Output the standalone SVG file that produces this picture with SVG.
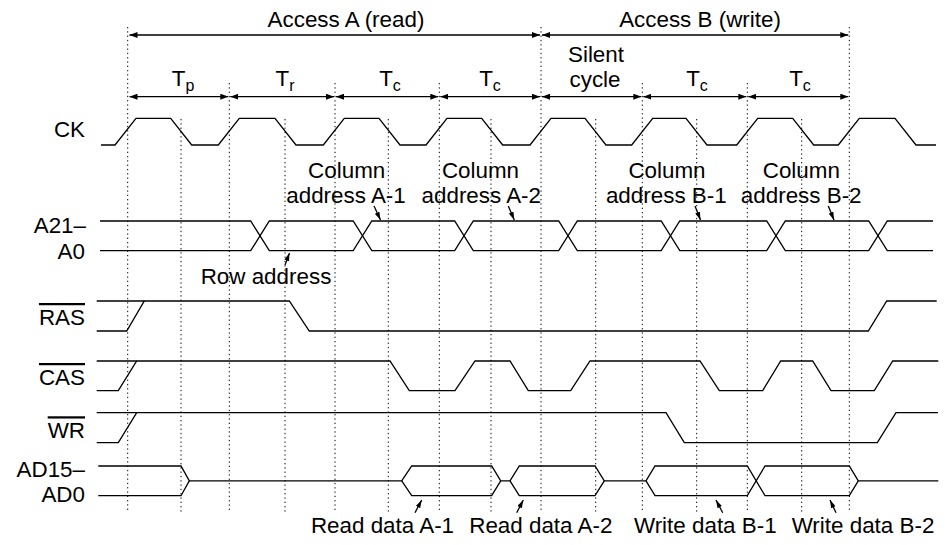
<svg xmlns="http://www.w3.org/2000/svg" width="945" height="545" viewBox="0 0 945 545">
<style>
text{font-family:"Liberation Sans",Arial,sans-serif;font-size:22.4px;fill:#000}
.m{text-anchor:middle}
.e{text-anchor:end}
.sub{font-size:16px}
.ol{text-decoration:overline}
.sig{fill:none;stroke:#000;stroke-width:1.3;stroke-linejoin:miter}
.grid{stroke:#000;stroke-width:1;stroke-dasharray:1.3 3}
.dim{stroke:#000;stroke-width:1.3;marker-start:url(#ah);marker-end:url(#ah)}
.ptr{stroke:#000;stroke-width:1.3;marker-end:url(#ph)}
</style>
<defs>
<marker id="ah" viewBox="0 0 8 6" refX="8" refY="3" markerWidth="8" markerHeight="6" markerUnits="userSpaceOnUse" orient="auto-start-reverse"><path d="M0,0 L8,3 L0,6 z" fill="#000"/></marker>
<marker id="ph" viewBox="0 0 8 5" refX="8" refY="2.5" markerWidth="8" markerHeight="5" markerUnits="userSpaceOnUse" orient="auto"><path d="M0,0 L8,2.5 L0,5 z" fill="#000"/></marker>
</defs>
<rect width="945" height="545" fill="#fff"/>
<g id="grid">
<line class="grid" x1="127.7" y1="27" x2="127.7" y2="512.7"/>
<line class="grid" x1="229.3" y1="83" x2="229.3" y2="512.7"/>
<line class="grid" x1="335" y1="83" x2="335" y2="512.7"/>
<line class="grid" x1="439.3" y1="83" x2="439.3" y2="512.7"/>
<line class="grid" x1="541" y1="27" x2="541" y2="512.7"/>
<line class="grid" x1="642.3" y1="83" x2="642.3" y2="512.7"/>
<line class="grid" x1="747.3" y1="83" x2="747.3" y2="512.7"/>
<line class="grid" x1="849.3" y1="27" x2="849.3" y2="512.7"/>
<line class="grid" x1="181" y1="119" x2="181" y2="512.7"/>
<line class="grid" x1="285" y1="119" x2="285" y2="512.7"/>
<line class="grid" x1="388.3" y1="119" x2="388.3" y2="512.7"/>
<line class="grid" x1="491" y1="119" x2="491" y2="512.7"/>
<line class="grid" x1="595.7" y1="119" x2="595.7" y2="512.7"/>
<line class="grid" x1="696.7" y1="119" x2="696.7" y2="512.7"/>
<line class="grid" x1="801.7" y1="119" x2="801.7" y2="512.7"/>
</g>
<g id="timing-labels">
<text class="m" x="346" y="26.5">Access A (read)</text>
<text class="m" x="700" y="26.5">Access B (write)</text>
<text class="m" x="183" y="86">T<tspan class="sub" dy="5">p</tspan></text>
<text class="m" x="285" y="86">T<tspan class="sub" dy="5">r</tspan></text>
<text class="m" x="390" y="86">T<tspan class="sub" dy="5">c</tspan></text>
<text class="m" x="490" y="86">T<tspan class="sub" dy="5">c</tspan></text>
<text class="m" x="596" y="61.5">Silent</text>
<text class="m" x="595" y="87">cycle</text>
<text class="m" x="697" y="86">T<tspan class="sub" dy="5">c</tspan></text>
<text class="m" x="800" y="86">T<tspan class="sub" dy="5">c</tspan></text>
</g>
<g id="CK">
<text class="e" x="85" y="137">CK</text>
<path class="sig" d="M101,145 H115 L136,118.3 H170.7 L191.7,145 H218.3 L239.3,118.3 H275 L296,145 H323.3 L344.3,118.3 H379 L400,145 H426 L447,118.3 H481.7 L502.7,145 H530 L551,118.3 H585 L606,145 H631.7 L652.7,118.3 H686 L707,145 H736.7 L757.7,118.3 H792.7 L813.7,145 H838.3 L859.3,118.3 H895 L916,145 H936"/>
</g>
<g id="ADDR">
<text class="e" x="86" y="233">A21–</text>
<text class="e" x="85" y="259.3">A0</text>
<path class="sig" d="M100,221 H250.7 L269.3,250.7 H353.2 L371.8,221 H454.7 L473.3,250.7 H558.7 L577.3,221 H661.2 L679.8,250.7 H766.7 L785.3,221 H868.7 L887.3,250.7 H933"/>
<path class="sig" d="M100,250.7 H250.7 L269.3,221 H353.2 L371.8,250.7 H454.7 L473.3,221 H558.7 L577.3,250.7 H661.2 L679.8,221 H766.7 L785.3,250.7 H868.7 L887.3,221 H933"/>
<text class="m" x="266" y="284.3">Row address</text>
<text class="m" x="346.7" y="178.3">Column</text>
<text class="m" x="346" y="202.7">address A-1</text>
<text class="m" x="480.5" y="178.3">Column</text>
<text class="m" x="481.3" y="202.7">address A-2</text>
<text class="m" x="667" y="178.3">Column</text>
<text class="m" x="666.3" y="202.7">address B-1</text>
<text class="m" x="801.3" y="178.3">Column</text>
<text class="m" x="801.2" y="202.7">address B-2</text>
</g>
<g id="RAS">
<text class="e ol" x="85" y="325">RAS</text>
<path class="sig" d="M96.7,301 H144.3"/>
<path class="sig" d="M96.7,331 H126.7 L144.3,301 H289.3 L309.3,331 H868.3 L886.7,301 H936.7"/>
</g>
<g id="CAS">
<text class="e ol" x="85" y="385">CAS</text>
<path class="sig" d="M96.7,361 H136.7"/>
<path class="sig" d="M96.7,390.7 H118.3 L136.7,361 H390 L409.3,390.7 H455 L475,361 H510 L528.3,390.7 H570.7 L590,361 H700 L719.3,390.7 H762.7 L780.7,361 H812.7 L831,390.7 H874.3 L892.7,361 H938.3"/>
</g>
<g id="WR">
<text class="e ol" x="85" y="438.3">WR</text>
<path class="sig" d="M96.7,412.7 H136.7"/>
<path class="sig" d="M96.7,442.7 H118.3 L136.7,412.7 H666 L684.3,442.7 H877.3 L896,412.7 H938"/>
</g>
<g id="AD">
<text class="e" x="85" y="476.7">AD15–</text>
<text class="e" x="85" y="501.7">AD0</text>
<path class="sig" d="M98.3,466 H181 L189.3,480.85 H401.7 L411.7,466 H491.7 L500.7,480.85 H510 L519.3,466 H595 L604.3,480.85 H646 L655,466 H747.3 L765,495.7 H849.3 L858.3,480.85 H938.3"/>
<path class="sig" d="M98.3,495.7 H181 L189.3,480.85 M401.7,480.85 L411.7,495.7 H491.7 L500.7,480.85 M510,480.85 L519.3,495.7 H595 L604.3,480.85 M646,480.85 L655,495.7 H747.3 L765,466 H849.3 L858.3,480.85"/>
<text class="m" x="382.5" y="533.3">Read data A-1</text>
<text class="m" x="540.8" y="533.3">Read data A-2</text>
<text class="m" x="705.3" y="533.3">Write data B-1</text>
<text class="m" x="863" y="533.3">Write data B-2</text>
</g>
<g id="connectors">
<line class="dim" x1="129.5" y1="35" x2="540" y2="35"/>
<line class="dim" x1="542" y1="35" x2="848.3" y2="35"/>
<line class="dim" x1="129.5" y1="96.7" x2="228.3" y2="96.7"/>
<line class="dim" x1="230.3" y1="96.7" x2="334" y2="96.7"/>
<line class="dim" x1="336" y1="96.7" x2="438.3" y2="96.7"/>
<line class="dim" x1="440.3" y1="96.7" x2="540" y2="96.7"/>
<line class="dim" x1="542" y1="96.7" x2="641.3" y2="96.7"/>
<line class="dim" x1="643.3" y1="96.7" x2="746.3" y2="96.7"/>
<line class="dim" x1="748.3" y1="96.7" x2="848.3" y2="96.7"/>
<line class="ptr" x1="374" y1="206" x2="380.5" y2="220"/>
<line class="ptr" x1="508.3" y1="206" x2="514.3" y2="220"/>
<line class="ptr" x1="695" y1="206" x2="700.5" y2="220"/>
<line class="ptr" x1="828.3" y1="206" x2="834" y2="220"/>
<line class="ptr" x1="285" y1="265" x2="289.5" y2="253"/>
<line class="ptr" x1="415" y1="512.7" x2="421.7" y2="500"/>
<line class="ptr" x1="516.7" y1="512.7" x2="523.3" y2="500"/>
<line class="ptr" x1="722.7" y1="512.7" x2="716" y2="500"/>
<line class="ptr" x1="836" y1="512.7" x2="830" y2="500"/>
</g>
</svg>
